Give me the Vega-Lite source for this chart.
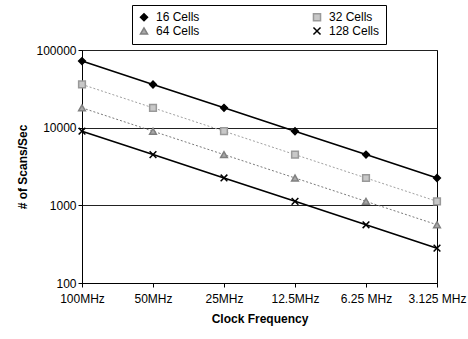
{
  "$schema": "https://vega.github.io/schema/vega-lite/v6.json",
  "width": 355,
  "height": 233,
  "autosize": {"type": "none"},
  "padding": {"left": 82, "top": 50, "right": 31, "bottom": 56},
  "background": "white",
  "config": {
    "font": "Liberation Sans",
    "view": {"stroke": "#000", "strokeWidth": 1}
  },
  "data": {
    "values": [
      {"series": "16 Cells", "freq": "100MHz", "scans": 72000},
      {"series": "16 Cells", "freq": "50MHz", "scans": 36000},
      {"series": "16 Cells", "freq": "25MHz", "scans": 18000},
      {"series": "16 Cells", "freq": "12.5MHz", "scans": 9000},
      {"series": "16 Cells", "freq": "6.25 MHz", "scans": 4500},
      {"series": "16 Cells", "freq": "3.125 MHz", "scans": 2250},
      {"series": "32 Cells", "freq": "100MHz", "scans": 36000},
      {"series": "32 Cells", "freq": "50MHz", "scans": 18000},
      {"series": "32 Cells", "freq": "25MHz", "scans": 9000},
      {"series": "32 Cells", "freq": "12.5MHz", "scans": 4500},
      {"series": "32 Cells", "freq": "6.25 MHz", "scans": 2250},
      {"series": "32 Cells", "freq": "3.125 MHz", "scans": 1125},
      {"series": "64 Cells", "freq": "100MHz", "scans": 18000},
      {"series": "64 Cells", "freq": "50MHz", "scans": 9000},
      {"series": "64 Cells", "freq": "25MHz", "scans": 4500},
      {"series": "64 Cells", "freq": "12.5MHz", "scans": 2250},
      {"series": "64 Cells", "freq": "6.25 MHz", "scans": 1125},
      {"series": "64 Cells", "freq": "3.125 MHz", "scans": 562},
      {"series": "128 Cells", "freq": "100MHz", "scans": 9000},
      {"series": "128 Cells", "freq": "50MHz", "scans": 4500},
      {"series": "128 Cells", "freq": "25MHz", "scans": 2250},
      {"series": "128 Cells", "freq": "12.5MHz", "scans": 1125},
      {"series": "128 Cells", "freq": "6.25 MHz", "scans": 562},
      {"series": "128 Cells", "freq": "3.125 MHz", "scans": 281}
    ]
  },
  "encoding": {
    "x": {
      "field": "freq",
      "type": "ordinal",
      "scale": {"type": "point", "padding": 0, "domain": ["100MHz", "50MHz", "25MHz", "12.5MHz", "6.25 MHz", "3.125 MHz"]},
      "axis": {
        "title": "Clock Frequency",
        "labelAngle": 0,
        "labelFontSize": 12,
        "labelColor": "#000",
        "labelPadding": 6,
        "tickSize": 4,
        "tickColor": "#000",
        "domainColor": "#000",
        "titleFontSize": 12,
        "titleFontWeight": "bold",
        "titleColor": "#000",
        "titlePadding": 9,
        "grid": false
      }
    },
    "y": {
      "field": "scans",
      "type": "quantitative",
      "scale": {"type": "log", "domain": [100, 100000]},
      "axis": {
        "title": "# of Scans/Sec",
        "values": [100, 1000, 10000, 100000],
        "format": "d",
        "labelFontSize": 12,
        "labelColor": "#000",
        "labelPadding": 2,
        "tickSize": 4,
        "tickColor": "#000",
        "domainColor": "#000",
        "grid": true,
        "gridColor": "#222",
        "gridOpacity": 1,
        "titleFontSize": 12,
        "titleFontWeight": "bold",
        "titleColor": "#000",
        "titlePadding": 6
      }
    }
  },
  "layer": [
    {
      "transform": [{"filter": "datum.series === '16 Cells' || datum.series === '128 Cells'"}],
      "mark": {"type": "line", "strokeWidth": 1.6},
      "encoding": {
        "detail": {"field": "series", "type": "nominal"},
        "color": {"value": "#000000"}
      }
    },
    {
      "transform": [{"filter": "datum.series === '32 Cells' || datum.series === '64 Cells'"}],
      "mark": {"type": "line", "strokeWidth": 1, "strokeDash": [2, 2]},
      "encoding": {
        "detail": {"field": "series", "type": "nominal"},
        "color": {"condition": {"test": "datum.series === '32 Cells'", "value": "#a0a0a0"}, "value": "#7a7a7a"}
      }
    },
    {
      "mark": {"type": "point", "filled": true, "size": 45, "opacity": 1, "strokeWidth": 1.5},
      "encoding": {
        "color": {
          "field": "series", "type": "nominal",
          "scale": {"domain": ["16 Cells", "32 Cells", "64 Cells", "128 Cells"], "range": ["#000000", "#c8c8c8", "#a8a8a8", "#000000"]},
          "legend": {
            "title": null,
            "orient": "none",
            "legendX": 50,
            "legendY": -45,
            "columns": 2,
            "direction": "horizontal",
            "strokeColor": "#000",
            "padding": 6,
            "symbolSize": 50,
            "symbolStrokeWidth": 1.5,
            "symbolOpacity": 1,
            "labelFontSize": 12,
            "labelColor": "#000",
            "labelOffset": 6,
            "rowPadding": 0,
            "columnPadding": 110
          }
        },
        "stroke": {
          "field": "series", "type": "nominal",
          "scale": {"domain": ["16 Cells", "32 Cells", "64 Cells", "128 Cells"], "range": ["#000000", "#999999", "#808080", "#000000"]},
          "legend": {
            "title": null,
            "orient": "none",
            "legendX": 50,
            "legendY": -45,
            "columns": 2,
            "direction": "horizontal",
            "strokeColor": "#000",
            "padding": 6,
            "symbolSize": 50,
            "symbolStrokeWidth": 1.5,
            "symbolOpacity": 1,
            "labelFontSize": 12,
            "labelColor": "#000",
            "labelOffset": 6,
            "rowPadding": 0,
            "columnPadding": 110
          }
        },
        "shape": {
          "field": "series", "type": "nominal",
          "scale": {"domain": ["16 Cells", "32 Cells", "64 Cells", "128 Cells"], "range": ["diamond", "square", "triangle-up", "M-1,-1L1,1M-1,1L1,-1"]},
          "legend": {
            "title": null,
            "orient": "none",
            "legendX": 50,
            "legendY": -45,
            "columns": 2,
            "direction": "horizontal",
            "strokeColor": "#000",
            "padding": 6,
            "symbolSize": 50,
            "symbolStrokeWidth": 1.5,
            "symbolOpacity": 1,
            "labelFontSize": 12,
            "labelColor": "#000",
            "labelOffset": 6,
            "rowPadding": 0,
            "columnPadding": 110
          }
        }
      }
    }
  ]
}
